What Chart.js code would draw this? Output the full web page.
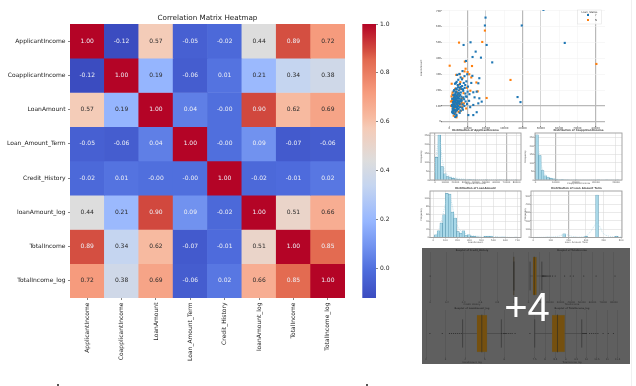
<!DOCTYPE html>
<html>
<head>
<meta charset="utf-8">
<title>Correlation Matrix Heatmap</title>
<script src="https://cdn.jsdelivr.net/npm/chart.js@4"></script>
<style>
    html, body { margin: 0; padding: 0; background: #fff; }
    body { position: relative; width: 636px; height: 386px; overflow: hidden; }
    canvas { position: absolute; }
    .soft { filter: blur(0.35px); }
    .softer { filter: blur(0.55px); }
    #gallery { position: absolute; left: 422px; top: 248px; width: 208px; height: 116px; background: #5f5f5f; }
    #more { position: absolute; left: 422px; top: 282px; width: 210px; text-align: center; color: #fff;
        font: 40px/50px "Liberation Sans", sans-serif; }
    #edge { position: absolute; left: 631px; top: 0; width: 1px; height: 386px; background: #f0f0f0; }
    .mark { position: absolute; top: 384px; width: 2px; height: 2px; background: #555; }
</style>
</head>
<body>
<canvas id="heatmap" class="soft" style="left:0;top:0"></canvas>
<canvas id="colorbar" class="soft" style="left:360px;top:0"></canvas>
<canvas id="scatter" class="softer" style="left:420px;top:0"></canvas>
<canvas id="hist1" class="softer" style="left:420px;top:127px"></canvas>
<canvas id="hist2" class="softer" style="left:524px;top:127px"></canvas>
<canvas id="hist3" class="softer" style="left:420px;top:186px"></canvas>
<canvas id="hist4" class="softer" style="left:524px;top:186px"></canvas>
<div id="gallery"></div>
<canvas id="box1" class="softer" style="left:422px;top:248px"></canvas>
<canvas id="box2" class="softer" style="left:522px;top:248px"></canvas>
<canvas id="box3" class="softer" style="left:422px;top:306px"></canvas>
<canvas id="box4" class="softer" style="left:522px;top:306px"></canvas>
<div id="more">+4</div>
<div id="edge"></div>
<div class="mark" style="left:57px"></div>
<div class="mark" style="left:366px"></div>

<script>
const features = ["ApplicantIncome", "CoapplicantIncome", "LoanAmount", "Loan_Amount_Term", "Credit_History", "loanAmount_log", "TotalIncome", "TotalIncome_log"];
const corrRow1 = [1.00, -0.12, 0.57, -0.05, -0.02, 0.44, 0.89, 0.72];
const corrRow2 = [-0.12, 1.00, 0.19, -0.06, 0.01, 0.21, 0.34, 0.38];
const corrRow3 = [0.57, 0.19, 1.00, 0.04, -0.001, 0.90, 0.62, 0.69];
const corrRow4 = [-0.05, -0.06, 0.04, 1.00, -0.001, 0.09, -0.07, -0.06];
const corrRow5 = [-0.02, 0.01, -0.001, -0.001, 1.00, -0.02, -0.01, 0.02];
const corrRow6 = [0.44, 0.21, 0.90, 0.09, -0.02, 1.00, 0.51, 0.66];
const corrRow7 = [0.89, 0.34, 0.62, -0.07, -0.01, 0.51, 1.00, 0.85];
const corrRow8 = [0.72, 0.38, 0.69, -0.06, 0.02, 0.66, 0.85, 1.00];
const corrRows = [corrRow1, corrRow2, corrRow3, corrRow4, corrRow5, corrRow6, corrRow7, corrRow8];
const colorbarTicks = [0, 0.2, 0.4, 0.6, 0.8, 1.0];

// scatter: income / loan amount
const approvedIncome = [51450, 19800, 19450, 39600, 11600, 7800, 20400, 63100, 14400, 12700, 17300, 9100, 23450, 37300, 38900,
    16400, 15850, 14960, 13100, 16400, 17700, 15850, 13100, 10400, 14960, 13100, 9800, 9300, 8700, 8300, 7900, 7500, 7200, 6900,
    9500, 8800, 8100, 7600, 7000, 6600, 6200, 5800, 5500, 5200, 4900, 4600, 4300, 4000, 3700, 3400, 3100, 2800, 2500, 2200, 1900,
    6400, 6000, 5700, 5300, 5000, 4700, 4400, 4100, 3800, 3500, 3200, 2900, 2600, 2300, 2000, 1700, 1500, 7300, 6800, 6300, 5900,
    5400, 5100, 4800, 4500, 4200, 3900, 3600, 3300, 3000, 2700, 2400, 2100, 1800, 5600, 4950, 4350, 3750, 3150, 2550, 1950, 6100,
    5450, 4850, 4250, 3650, 3050, 2450, 2850, 3350, 3850, 4150, 4650, 5150, 5650, 6500, 7100, 2750, 3250, 3950, 4450,
    10200, 11000, 9000, 8400, 10800, 12000, 11400, 9700, 8900, 7700, 12600, 13800, 7400, 8200, 10000, 6700, 1400, 1600, 2150,
    2350, 3450, 4050, 4750, 5250, 5950, 6250, 3550, 4550, 2650, 1850, 2950, 3750, 1550, 2250];
const approvedLoan = [707, 658, 608, 608, 502, 485, 485, 498, 443, 409, 405, 384, 375, 156, 124,
    275, 243, 190, 186, 148, 127, 116, 106, 42, 60, 42, 300, 255, 232, 288, 245, 205, 320, 268,
    158, 178, 142, 195, 225, 158, 280, 238, 302, 198, 265, 172, 296, 252, 210, 186, 240, 172, 130, 95, 110,
    128, 170, 112, 145, 118, 96, 150, 122, 165, 138, 100, 128, 152, 88, 124, 66, 100, 110, 135, 185, 92,
    160, 82, 130, 108, 88, 110, 148, 126, 92, 110, 70, 54, 82, 215, 152, 136, 120, 155, 140, 58, 70,
    128, 180, 160, 95, 74, 118, 48, 62, 36, 72, 98, 120, 56, 142, 88, 100, 30, 44, 80,
    222, 174, 160, 214, 132, 245, 92, 112, 128, 154, 290, 154, 76, 100, 190, 206, 105, 145, 168,
    192, 175, 205, 218, 180, 132, 220, 245, 232, 200, 145, 165, 190, 60, 75];
const rejectedIncome = [5300, 18000, 19450, 200, 8500, 80400, 33450, 20400, 12400, 10000, 8300, 5700, 3800, 1300, 6000, 7200,
    11500, 9600, 7800, 5000, 3200, 1600, 4200, 2600, 6600, 3500, 9200, 1900, 4700, 2300, 5400, 2900, 7000, 3000, 4500, 2000,
    6300, 1500, 3700, 5100, 2500, 8000, 3300, 4000, 1000, 2800, 6800, 2200, 5600, 1700, 4300, 3100, 900, 2400, 3900,
    14800, 15500, 12000, 10900, 8900, 7500, 5900, 4800, 3400, 2700, 1800, 1200, 3600, 5200, 6500];
const rejectedLoan = [500, 504, 576, 354, 380, 365, 264, 150, 352, 314, 318, 300, 296, 240, 250, 275,
    196, 215, 180, 232, 208, 172, 186, 160, 145, 142, 84, 126, 120, 110, 104, 100, 92, 88, 80, 78,
    70, 134, 68, 62, 58, 116, 52, 135, 100, 94, 122, 66, 168, 96, 74, 108, 128, 38, 28,
    248, 192, 280, 300, 335, 150, 206, 168, 205, 148, 185, 160, 115, 125, 112];
const scatterXTicks = [0, 10000, 20000, 30000, 40000, 50000, 60000, 70000, 80000];
const scatterYTicks = [0, 100, 200, 300, 400, 500, 600, 700];

// histograms: bin centres, counts and axis ticks
const incomeBins = [1500, 4200, 6900, 9600, 12300, 15000, 17700, 20400, 23100, 25800, 28500, 31200, 33900, 36600, 39300, 42000, 44700, 47400, 50100, 52800, 55500, 58200, 60900, 63600, 66300, 69000, 71700, 74400, 77100, 79800];
const incomeCounts = [127, 253, 75, 34, 19, 14, 10, 6, 4, 3, 2, 1, 2, 1, 1, 0, 0, 0, 1, 0, 0, 0, 0, 1, 0, 0, 0, 0, 0, 1];
const incomeKdeX = [0, 2000, 4500, 7000, 10000, 14000, 20000, 30000, 45000, 60000, 80000];
const incomeKdeY = [40, 170, 225, 120, 50, 22, 12, 4, 2, 1, 0];
const incomeXTicks = [0, 10000, 20000, 30000, 40000, 50000, 60000, 70000, 80000];
const incomeYTicks = [0, 50, 100, 150, 200, 250];
const coIncomeBins = [694, 2083, 3472, 4861, 6250, 7639, 9028, 10417, 11806, 13194, 14583, 15972, 17361, 18750, 20139, 21528, 22917, 24306, 25694, 27083, 28472, 29861, 31250, 32639, 34028, 35417, 36806, 38194, 39583, 40972];
const coIncomeCounts = [265, 143, 55, 25, 14, 10, 7, 3, 1, 2, 1, 1, 0, 0, 1, 0, 0, 0, 0, 0, 0, 0, 1, 0, 0, 1, 0, 0, 0, 1];
const coIncomeKdeX = [0, 700, 2000, 3500, 5000, 8000, 12000, 20000, 33000, 41000];
const coIncomeKdeY = [210, 235, 140, 60, 28, 10, 3, 1, 1, 0];
const coIncomeXTicks = [0, 10000, 20000, 30000, 40000];
const coIncomeYTicks = [0, 50, 100, 150, 200, 250];
const loanBins = [20.5, 43.5, 66.5, 89.5, 112.5, 135.5, 158.5, 181.5, 204.5, 227.5, 250.5, 273.5, 296.5, 319.5, 342.5, 365.5, 388.5, 411.5, 434.5, 457.5, 480.5, 503.5, 526.5, 549.5, 572.5, 595.5, 618.5, 641.5, 664.5, 687.5];
const loanCounts = [7, 17, 37, 58, 113, 111, 65, 50, 15, 11, 17, 5, 7, 3, 3, 2, 1, 0, 3, 3, 3, 0, 1, 0, 1, 1, 0, 0, 0, 1];
const loanKdeX = [0, 30, 60, 90, 120, 145, 175, 210, 260, 320, 400, 480, 600, 700];
const loanKdeY = [1, 10, 34, 72, 104, 96, 56, 24, 11, 5, 3, 3, 1, 0];
const loanXTicks = [0, 100, 200, 300, 400, 500, 600, 700];
const loanYTicks = [0, 20, 40, 60, 80, 100];
const termBins = [19.8, 35.4, 51, 66.6, 82.2, 97.8, 113.4, 129, 144.6, 160.2, 175.8, 191.4, 207, 222.6, 238.2, 253.8, 269.4, 285, 300.6, 316.2, 331.8, 347.4, 363, 378.6, 394.2, 409.8, 425.4, 441, 456.6, 472.2];
const termCounts = [1, 2, 0, 2, 4, 0, 3, 0, 0, 0, 44, 0, 0, 0, 4, 0, 0, 0, 13, 0, 0, 0, 512, 0, 0, 0, 0, 0, 0, 15];
const termKdeX = [0, 90, 140, 180, 220, 260, 300, 325, 345, 362, 380, 400, 440, 480, 505];
const termKdeY = [1, 6, 14, 36, 14, 6, 20, 68, 130, 172, 126, 46, 12, 14, 2];
const termXTicks = [0, 100, 200, 300, 400, 500];
const termYTicks = [0, 100, 200, 300, 400, 500];

// box plots
const creditBox = { q1: 1, median: 1, q3: 1, low: 1, high: 1, fliers: [0] };
const totalBox = { q1: 4166, median: 5416, q3: 7522, low: 1442, high: 12500, fliers: [12700, 13000, 13300, 13700, 14100, 14600, 15200, 15800, 16500, 17300, 18300, 19400, 20500, 22500, 25000, 33800, 39100, 42000, 51700, 63300, 81000] };
const loanLogBox = { q1: 4.6, median: 4.85, q3: 5.12, low: 3.87, high: 5.85, fliers: [2.2, 2.83, 3.2, 3.3, 3.4, 3.5, 3.6, 3.7, 3.8, 5.87, 5.95, 6.0, 6.05, 6.1, 6.2, 6.3, 6.4, 6.55] };
const totalLogBox = { q1: 8.34, median: 8.6, q3: 8.95, low: 7.5, high: 9.77, fliers: [7.27, 9.8, 9.85, 9.9, 9.95, 10.0, 10.15, 10.25, 10.35, 10.45, 10.55, 10.8, 11.05, 11.3] };
const creditTicks = [0, 0.2, 0.4, 0.6, 0.8, 1.0];
const totalTicks = [0, 10000, 20000, 30000, 40000, 50000, 60000, 70000, 80000];
const loanLogTicks = [2, 3, 4, 5, 6];
const totalLogTicks = [7.5, 8, 8.5, 9, 9.5, 10, 10.5, 11, 11.5];

// coolwarm stops (t, r, g, b)
const coolwarm = [[0, 59, 76, 192], [0.1, 78, 108, 220], [0.19, 114, 147, 240], [0.28, 150, 182, 255], [0.41, 197, 213, 240],
    [0.5, 221, 221, 221], [0.62, 245, 203, 183], [0.66, 247, 186, 160], [0.75, 246, 155, 125], [0.87, 226, 105, 80],
    [0.9, 213, 80, 65], [1, 180, 4, 38]];
const vmin = -0.12;
const vmax = 1.0;

function colorAt(t) {
    for (let i = 1; i < coolwarm.length; i++) {
        if (t <= coolwarm[i][0]) {
            let a = coolwarm[i - 1];
            let b = coolwarm[i];
            let f = (t - a[0]) / (b[0] - a[0]);
            let mix = (k) => Math.round(a[k] + (b[k] - a[k]) * f);
            return `rgb(${mix(1)},${mix(2)},${mix(3)})`;
        }
    }
    return "rgb(180,4,38)";
}

function valueColor(v) {
    return colorAt((v - vmin) / (vmax - vmin));
}

function size(id, w, h) {
    let c = document.getElementById(id);
    c.width = w;
    c.height = h;
    c.style.width = w + "px";
    c.style.height = h + "px";
    return c;
}

function fixWidth(w) {
    return (scale) => { scale.width = w; };
}

function fixHeight(h) {
    return (scale) => { scale.height = h; };
}

function tickList(values) {
    return (axis) => { axis.ticks = values.map((v) => ({ value: v })); };
}

function titlePlugin(text, font, color, y) {
    return {
        id: "panelTitle",
        afterDraw(chart) {
            let ctx = chart.ctx;
            ctx.save();
            ctx.font = font;
            ctx.fillStyle = color;
            ctx.textAlign = "center";
            ctx.textBaseline = "middle";
            ctx.fillText(text, (chart.chartArea.left + chart.chartArea.right) / 2, y);
            ctx.restore();
        }
    };
}

function framePlugin(color, width) {
    return {
        id: "frame",
        afterDatasetsDraw(chart) {
            let a = chart.chartArea;
            let ctx = chart.ctx;
            ctx.save();
            ctx.strokeStyle = color;
            ctx.lineWidth = width;
            ctx.strokeRect(a.left, a.top, a.right - a.left, a.bottom - a.top);
            ctx.restore();
        }
    };
}

function gridStyle(strong, medium, soft) {
    return {
        color: (c) => {
            let v = c.tick ? c.tick.value : null;
            if (strong.includes(v)) return "#b9b9b9";
            if (medium.includes(v)) return "#cfcfcf";
            return soft;
        },
        lineWidth: (c) => {
            let v = c.tick ? c.tick.value : null;
            return strong.includes(v) ? 1.2 : medium.includes(v) ? 0.9 : 0.5;
        },
        tickLength: 1,
        tickColor: "#777"
    };
}

// heatmap: one stacked dataset per row, every cell is one unit tall
const annotate = {
    id: "annotate",
    afterDatasetsDraw(chart) {
        let ctx = chart.ctx;
        ctx.save();
        ctx.font = "6px 'DejaVu Sans'";
        ctx.textAlign = "center";
        ctx.textBaseline = "middle";
        corrRows.forEach((row, i) => {
            let meta = chart.getDatasetMeta(i);
            row.forEach((v, j) => {
                let bar = meta.data[j];
                ctx.fillStyle = v > 0.15 && v < 0.8 ? "#2a2a2a" : "#eef0f6";
                ctx.fillText(v.toFixed(2), bar.x, (bar.y + bar.base) / 2);
            });
        });
        ctx.restore();
    }
};

new Chart(size("heatmap", 352, 386), {
    type: "bar",
    data: {
        labels: features,
        datasets: corrRows.map((row) => ({
            data: row.map(() => 1),
            backgroundColor: row.map(valueColor),
            borderWidth: 0,
            categoryPercentage: 1,
            barPercentage: 1
        }))
    },
    options: {
        responsive: false,
        animation: false,
        layout: { padding: { top: 24, right: 7, left: 0, bottom: 0 } },
        plugins: { legend: { display: false }, tooltip: { enabled: false } },
        scales: {
            x: {
                stacked: true,
                afterFit: fixHeight(88),
                border: { display: false },
                grid: { drawOnChartArea: false, offset: false, tickLength: 2, tickColor: "#333", tickWidth: 0.6 },
                ticks: { autoSkip: false, minRotation: 90, maxRotation: 90, padding: 2.5, color: "#222", font: { family: "DejaVu Sans", size: 6 } }
            },
            y: {
                stacked: true,
                reverse: true,
                min: 0,
                max: 8,
                afterFit: fixWidth(70),
                afterBuildTicks: (axis) => { axis.ticks = features.map((_, i) => ({ value: i + 0.5 })); },
                border: { display: false },
                grid: { drawOnChartArea: false, tickLength: 2, tickColor: "#333", tickWidth: 0.6 },
                ticks: { autoSkip: false, padding: 2.5, color: "#222", font: { family: "DejaVu Sans", size: 6 }, callback: (v, i) => features[i] }
            }
        }
    },
    plugins: [annotate, titlePlugin("Correlation Matrix Heatmap", "7.2px 'DejaVu Sans'", "#1a1a1a", 18)]
});

new Chart(size("colorbar", 44, 386), {
    type: "bar",
    data: {
        labels: [""],
        datasets: [{
            data: [[vmin, vmax]],
            borderWidth: 0,
            categoryPercentage: 1,
            barPercentage: 1,
            backgroundColor: (c) => {
                let area = c.chart.chartArea;
                if (!area) return "#888";
                let g = c.chart.ctx.createLinearGradient(0, area.bottom, 0, area.top);
                coolwarm.forEach((s) => g.addColorStop(s[0], `rgb(${s[1]},${s[2]},${s[3]})`));
                return g;
            }
        }]
    },
    options: {
        responsive: false,
        animation: false,
        layout: { padding: { top: 24, bottom: 88, left: 2.3, right: 0 } },
        plugins: { legend: { display: false }, tooltip: { enabled: false } },
        scales: {
            x: { display: false },
            y: {
                position: "right",
                min: vmin,
                max: vmax,
                afterFit: fixWidth(28),
                afterBuildTicks: tickList(colorbarTicks),
                border: { display: false },
                grid: { drawOnChartArea: false, tickLength: 2, tickColor: "#333", tickWidth: 0.6 },
                ticks: { padding: 2, color: "#222", font: { family: "DejaVu Sans", size: 6 }, callback: (v) => v.toFixed(1) }
            }
        }
    }
});

// scatter
function pairs(xs, ys) {
    return xs.map((x, i) => ({ x: x, y: ys[i] }));
}

const scatterLegend = {
    id: "scatterLegend",
    afterDraw(chart) {
        let ctx = chart.ctx;
        ctx.save();
        ctx.fillStyle = "rgba(255,255,255,0.85)";
        ctx.strokeStyle = "#dddddd";
        ctx.lineWidth = 0.5;
        ctx.fillRect(157.5, 10, 24, 14);
        ctx.strokeRect(157.5, 10, 24, 14);
        ctx.font = "2.6px 'DejaVu Sans'";
        ctx.textAlign = "center";
        ctx.textBaseline = "middle";
        ctx.fillStyle = "#333";
        ctx.fillText("Loan_Status", 169.5, 12);
        ctx.textAlign = "left";
        ctx.fillText("Y", 175, 15);
        ctx.fillText("N", 175, 20);
        ctx.fillStyle = "#1f77b4";
        ctx.fillRect(167, 14, 2, 2);
        ctx.fillStyle = "#ff7f0e";
        ctx.fillRect(167, 19, 2, 2);
        ctx.restore();
    }
};

new Chart(size("scatter", 200, 134), {
    type: "scatter",
    data: {
        datasets: [
            { label: "Y", data: pairs(approvedIncome, approvedLoan), backgroundColor: "#1f77b4", borderWidth: 0, pointStyle: "rect", pointRadius: 1.5 },
            { label: "N", data: pairs(rejectedIncome, rejectedLoan), backgroundColor: "#ff7f0e", borderWidth: 0, pointStyle: "rect", pointRadius: 1.5 }
        ]
    },
    options: {
        responsive: false,
        animation: false,
        layout: { padding: { top: 10, right: 15, left: 0, bottom: 0 } },
        plugins: { legend: { display: false }, tooltip: { enabled: false } },
        scales: {
            x: {
                min: -4000,
                max: 85100,
                afterFit: fixHeight(8),
                afterBuildTicks: tickList(scatterXTicks),
                border: { display: false },
                grid: gridStyle([10000, 40000, 80000], [20000, 50000], "#f0f0f0"),
                ticks: { autoSkip: false, maxRotation: 0, padding: 0, color: "#444", font: { family: "DejaVu Sans", size: 2.6 }, callback: (v) => String(v) }
            },
            y: {
                min: -27,
                max: 706,
                afterFit: fixWidth(22),
                afterBuildTicks: tickList(scatterYTicks),
                border: { display: false },
                grid: gridStyle([0, 100], [], "#eeeeee"),
                ticks: { padding: 0, color: "#444", font: { family: "DejaVu Sans", size: 2.6 }, callback: (v) => String(v) },
                title: { display: true, text: "LoanAmount", padding: 0, color: "#555", font: { family: "DejaVu Sans", size: 2.6 } }
            }
        }
    },
    plugins: [scatterLegend]
});

// histogram panels
function histChart(id, o) {
    new Chart(size(id, o.width, o.height), {
        type: "bar",
        data: {
            datasets: [
                { type: "line", data: pairs(o.kdeX, o.kdeY), borderColor: "#9fd4e6", borderWidth: 0.6, borderDash: [1, 1], pointRadius: 0, tension: 0.4, order: 0 },
                { data: pairs(o.bins, o.counts), backgroundColor: "#a9d8e8", borderColor: "#4d8ea8", borderWidth: 0.5, categoryPercentage: 1, barPercentage: 1, order: 1 }
            ]
        },
        options: {
            responsive: false,
            animation: false,
            layout: { padding: { top: o.top, right: o.right, left: 0, bottom: 0 } },
            plugins: { legend: { display: false }, tooltip: { enabled: false } },
            scales: {
                x: {
                    type: "linear",
                    offset: false,
                    min: o.xMin,
                    max: o.xMax,
                    afterFit: fixHeight(o.bottom),
                    afterBuildTicks: tickList(o.xTicks),
                    border: { display: false },
                    grid: Object.assign(gridStyle(o.strong, [], "#d4d4d4"), { offset: false }),
                    ticks: { autoSkip: false, maxRotation: 0, padding: 0, color: "#555", font: { family: "DejaVu Sans", size: 2.4 }, callback: (v) => String(v) },
                    title: { display: true, text: o.xLabel, padding: 0, color: "#555", font: { family: "DejaVu Sans", size: 2.4 } }
                },
                y: {
                    min: 0,
                    max: o.yMax,
                    afterFit: fixWidth(o.leftGap),
                    afterBuildTicks: tickList(o.yTicks),
                    border: { display: false },
                    grid: gridStyle([], [], "#d4d4d4"),
                    ticks: { padding: 0, color: "#555", font: { family: "DejaVu Sans", size: 2.4 }, callback: (v) => String(v) },
                    title: { display: true, text: "Frequency", padding: 0, color: "#555", font: { family: "DejaVu Sans", size: 2.4 } }
                }
            }
        },
        plugins: [titlePlugin(o.title, "bold 2.6px 'DejaVu Sans'", "#444", o.top - 2.5), framePlugin("#9c9c9c", 0.9)]
    });
}

histChart("hist1", { width: 102, height: 58, top: 6, bottom: 5, right: 1, leftGap: 10, title: "Distribution of ApplicantIncome", xLabel: "ApplicantIncome",
    bins: incomeBins, counts: incomeCounts, kdeX: incomeKdeX, kdeY: incomeKdeY, xMin: -4900, xMax: 84300, xTicks: incomeXTicks, yMax: 264, yTicks: incomeYTicks, strong: [0, 70000] });
histChart("hist2", { width: 100, height: 58, top: 6, bottom: 5, right: 2, leftGap: 11, title: "Distribution of CoapplicantIncome", xLabel: "CoapplicantIncome",
    bins: coIncomeBins, counts: coIncomeCounts, kdeX: coIncomeKdeX, kdeY: coIncomeKdeY, xMin: -300, xMax: 43000, xTicks: coIncomeXTicks, yMax: 276, yTicks: coIncomeYTicks, strong: [10000] });
histChart("hist3", { width: 102, height: 58, top: 5, bottom: 6.5, right: 1, leftGap: 10, title: "Distribution of LoanAmount", xLabel: "LoanAmount",
    bins: loanBins, counts: loanCounts, kdeX: loanKdeX, kdeY: loanKdeY, xMin: -28, xMax: 730, xTicks: loanXTicks, yMax: 119, yTicks: loanYTicks, strong: [] });
histChart("hist4", { width: 100, height: 58, top: 5, bottom: 6.5, right: 2, leftGap: 7, title: "Distribution of Loan_Amount_Term", xLabel: "Loan_Amount_Term",
    bins: termBins, counts: termCounts, kdeX: termKdeX, kdeY: termKdeY, xMin: -13, xMax: 505, xTicks: termXTicks, yMax: 560, yTicks: termYTicks, strong: [200] });

// box plot panels, colours are already the darkened ones under the "+4" cover
function boxChart(id, box, o) {
    let capH = 0.3;
    new Chart(size(id, o.width, o.height), {
        type: "bar",
        data: {
            datasets: [
                { indexAxis: "y", data: [{ x: [box.q1, box.q3], y: 0 }], backgroundColor: "#75500f", borderColor: "#5a5a4a", borderWidth: 0.5, barThickness: o.boxSize, order: 2 },
                { type: "line", data: [{ x: box.low, y: 0 }, { x: box.q1, y: 0 }], borderColor: "#3d3d3d", borderWidth: 0.5, pointRadius: 0, order: 1 },
                { type: "line", data: [{ x: box.q3, y: 0 }, { x: box.high, y: 0 }], borderColor: "#3d3d3d", borderWidth: 0.5, pointRadius: 0, order: 1 },
                { type: "line", data: [{ x: box.low, y: -capH }, { x: box.low, y: capH }], borderColor: "#333", borderWidth: 0.7, pointRadius: 0, order: 1 },
                { type: "line", data: [{ x: box.high, y: -capH }, { x: box.high, y: capH }], borderColor: "#333", borderWidth: 0.7, pointRadius: 0, order: 1 },
                { type: "line", data: [{ x: box.median, y: -0.4 }, { x: box.median, y: 0.4 }], borderColor: "#3c3420", borderWidth: 0.8, pointRadius: 0, order: 1 },
                { type: "scatter", data: box.fliers.map((v) => ({ x: v, y: 0 })), backgroundColor: "#2a2a2a", borderWidth: 0, pointRadius: 0.6, order: 0 }
            ]
        },
        options: {
            responsive: false,
            animation: false,
            indexAxis: "y",
            layout: { padding: { top: o.top, right: o.right, left: o.left, bottom: 0 } },
            plugins: { legend: { display: false }, tooltip: { enabled: false } },
            scales: {
                x: {
                    type: "linear",
                    offset: false,
                    min: o.xMin,
                    max: o.xMax,
                    afterFit: fixHeight(o.bottom),
                    afterBuildTicks: tickList(o.xTicks),
                    border: { display: false },
                    grid: { color: "#515151", lineWidth: 0.5, tickLength: 1, tickColor: "#444", offset: false },
                    ticks: { autoSkip: false, maxRotation: 0, padding: 0, color: "#2c2c2c", font: { family: "DejaVu Sans", size: 2.4 }, callback: (v) => String(v) },
                    title: { display: true, text: o.xLabel, padding: 0, color: "#2c2c2c", font: { family: "DejaVu Sans", size: 2.4 } }
                },
                y: {
                    type: "linear",
                    offset: false,
                    display: false,
                    min: -0.5,
                    max: 0.5
                }
            }
        },
        plugins: [titlePlugin(o.title, "bold 2.3px 'DejaVu Sans'", "#2c2c2c", 2.5)]
    });
}

boxChart("box1", creditBox, { width: 100, height: 58, left: 2, right: 1, top: 4, bottom: 6, boxSize: 38, xMin: -0.05, xMax: 1.05, xTicks: creditTicks, xLabel: "Credit_History", title: "Boxplot of Credit_History" });
boxChart("box2", totalBox, { width: 100, height: 58, left: 2, right: 0, top: 4, bottom: 6, boxSize: 38, xMin: -2350, xMax: 83800, xTicks: totalTicks, xLabel: "TotalIncome", title: "Boxplot of TotalIncome" });
boxChart("box3", loanLogBox, { width: 100, height: 58, left: 2, right: 1, top: 4, bottom: 7, boxSize: 37, xMin: 2, xMax: 6.7, xTicks: loanLogTicks, xLabel: "loanAmount_log", title: "Boxplot of loanAmount_log" });
boxChart("box4", totalLogBox, { width: 100, height: 58, left: 2, right: 0, top: 4, bottom: 7, boxSize: 37, xMin: 7.08, xMax: 11.52, xTicks: totalLogTicks, xLabel: "TotalIncome_log", title: "Boxplot of TotalIncome_log" });
</script>
</body>
</html>
